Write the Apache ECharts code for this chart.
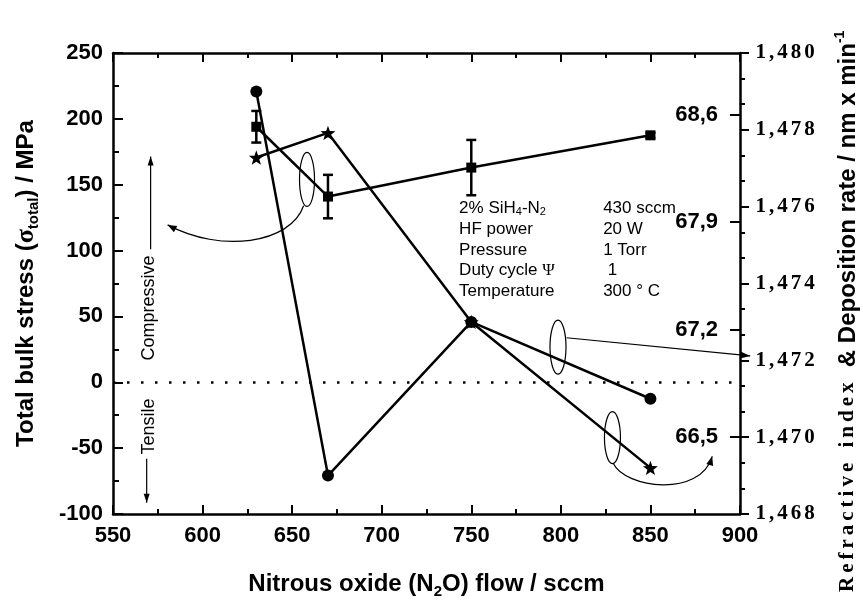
<!DOCTYPE html>
<html>
<head>
<meta charset="utf-8">
<script src="https://cdn.jsdelivr.net/npm/echarts@6/dist/echarts.min.js"></script>
<style>
  html, body { margin: 0; padding: 0; background: #fff; }
  #chart { width: 863px; height: 604px; }
</style>
</head>
<body>
<div id="chart"></div>
<script>
// N2O flow settings (sccm)
const flow = [630, 670, 750, 850];
// Total bulk stress (MPa) with its spread
const stress = [194, 141, 163, 187.5];
const stressErr = [12, 16.5, 21, 2];
// Refractive index
const refractiveIndex = [1.4790, 1.4690, 1.4730, 1.4710];
// Deposition rate (nm x min^-1)
const depositionRate = [68.32, 68.48, 67.25, 66.30];
const depositionTicks = [66.5, 67.2, 67.9, 68.6];

// Process conditions block
const paramNames = ['2% SiH{sub|4}-N{sub|2}', 'HF power', 'Pressure', 'Duty cycle {psi|Ψ}', 'Temperature'];
const paramValues = ['430 sccm', '20 W', '1 Torr', ' 1', '300 ° C'];

const SANS = '"Liberation Sans", Arial, Helvetica, sans-serif';
const SERIF = '"Liberation Serif", "Times New Roman", serif';
const INK = '#000';

const chart = echarts.init(document.getElementById('chart'), null, { renderer: 'canvas' });

const STAR = 'path://M0,-10L2.35,-3.24L9.51,-3.09L3.8,1.24L5.88,8.09L0,4.4L-5.88,8.09L-3.8,1.24L-9.51,-3.09L-2.35,-3.24Z';

const spineLine = { show: true, onZero: false, lineStyle: { color: INK, width: 2.5 } };
const boldLabel = { color: INK, fontFamily: SANS, fontWeight: 'bold', fontSize: 22 };
const comma = (v, d) => v.toFixed(d).replace('.', ',');

const titleRich = {
  b: { fontFamily: SANS, fontWeight: 'bold', fontSize: 24, color: INK, lineHeight: 30 },
  sub: { fontFamily: SANS, fontWeight: 'bold', fontSize: 15, color: INK, lineHeight: 13, verticalAlign: 'bottom' }
};

const option = {
  animation: false,
  backgroundColor: '#fff',
  grid: { left: 113, right: 123, top: 53, bottom: 88, containLabel: false },
  xAxis: [
    {
      type: 'value', position: 'bottom', min: 550, max: 900, interval: 50,
      axisLine: spineLine,
      axisTick: { show: true, inside: true, length: 9, lineStyle: { color: INK, width: 2 } },
      minorTick: { show: true, splitNumber: 2, length: 5, lineStyle: { color: INK, width: 2 } },
      splitLine: { show: false },
      axisLabel: Object.assign({ margin: 11 }, boldLabel),
      name: '{b|Nitrous oxide (N}{sub|2}{b|O) flow / sccm}',
      nameLocation: 'middle', nameGap: 55,
      nameTextStyle: { rich: titleRich, padding: [0, 0, 0, 0] }
    },
    {
      type: 'value', position: 'top', min: 550, max: 900, interval: 50,
      axisLine: spineLine,
      axisTick: { show: true, inside: true, length: 9, lineStyle: { color: INK, width: 2 } },
      minorTick: { show: true, splitNumber: 2, length: 5, lineStyle: { color: INK, width: 2 } },
      splitLine: { show: false },
      axisLabel: { show: false }
    }
  ],
  yAxis: [
    {
      type: 'value', position: 'left', min: -100, max: 250, interval: 50,
      axisLine: spineLine,
      axisTick: { show: true, inside: true, length: 10, lineStyle: { color: INK, width: 2 } },
      minorTick: { show: true, splitNumber: 2, length: 6, lineStyle: { color: INK, width: 2 } },
      splitLine: { show: false },
      axisLabel: Object.assign({ margin: 10 }, boldLabel),
      name: '{b|Total bulk stress (}{g|σ}{sub|total}{b|) / MPa}',
      nameLocation: 'middle', nameGap: 72, nameRotate: 90,
      nameTextStyle: {
        rich: Object.assign({}, titleRich, {
          g: { fontFamily: SERIF, fontWeight: 'bold', fontSize: 26, color: INK, lineHeight: 30 }
        })
      }
    },
    {
      type: 'value', position: 'right', min: 1.468, max: 1.480, interval: 0.002,
      axisLine: spineLine,
      axisTick: { show: true, inside: false, length: 9, lineStyle: { color: INK, width: 2 } },
      minorTick: { show: true, splitNumber: 3, length: 5, lineStyle: { color: INK, width: 2 } },
      splitLine: { show: false },
      axisLabel: {
        margin: 14,
        formatter: v => comma(v, 3).split('').map(c => '{d|' + c + '}').join(''),
        rich: { d: { fontFamily: SERIF, fontWeight: 'bold', fontSize: 21, color: INK, padding: [0, 1.5, 0, 1.5] } }
      }
    },
    {
      type: 'value', position: 'right', min: 66, max: 69,
      axisLine: { show: false },
      axisTick: { show: true, inside: true, length: 10, customValues: depositionTicks, lineStyle: { color: INK, width: 2 } },
      splitLine: { show: false },
      axisLabel: Object.assign({
        inside: true, margin: 22, customValues: depositionTicks,
        formatter: v => comma(v, 1)
      }, boldLabel)
    }
  ],
  series: [
    {
      name: 'Stress', type: 'line', xAxisIndex: 0, yAxisIndex: 0, z: 3,
      data: flow.map((f, i) => [f, stress[i]]),
      symbol: 'rect', symbolSize: 10,
      lineStyle: { color: INK, width: 2.5 },
      itemStyle: { color: INK },
      markLine: {
        silent: true, symbol: 'none', label: { show: false },
        lineStyle: { color: INK, width: 2.5, type: [2.5, 11.5] },
        data: [{ yAxis: 0 }]
      }
    },
    {
      name: 'Stress spread', type: 'custom', xAxisIndex: 0, yAxisIndex: 0, z: 3,
      data: flow.map((f, i) => [f, stress[i] - stressErr[i], stress[i] + stressErr[i]]),
      encode: { x: 0, y: [1, 2] },
      renderItem: (params, api) => {
        const lo = api.coord([api.value(0), api.value(1)]);
        const hi = api.coord([api.value(0), api.value(2)]);
        const w = 5;
        const st = { stroke: INK, lineWidth: 2.5 };
        return {
          type: 'group',
          children: [
            { type: 'line', shape: { x1: lo[0], y1: lo[1], x2: hi[0], y2: hi[1] }, style: st },
            { type: 'line', shape: { x1: lo[0] - w, y1: lo[1], x2: lo[0] + w, y2: lo[1] }, style: st },
            { type: 'line', shape: { x1: hi[0] - w, y1: hi[1], x2: hi[0] + w, y2: hi[1] }, style: st }
          ]
        };
      }
    },
    {
      name: 'Deposition rate', type: 'line', xAxisIndex: 0, yAxisIndex: 2, z: 3,
      data: flow.map((f, i) => [f, depositionRate[i]]),
      symbol: STAR, symbolSize: 15, symbolKeepAspect: true,
      lineStyle: { color: INK, width: 2.5 },
      itemStyle: { color: INK }
    },
    {
      name: 'Refractive index', type: 'line', xAxisIndex: 0, yAxisIndex: 1, z: 4,
      data: flow.map((f, i) => [f, refractiveIndex[i]]),
      symbol: 'circle', symbolSize: 12,
      lineStyle: { color: INK, width: 2.5 },
      itemStyle: { color: INK }
    }
  ]
};

chart.setOption(option);

// ---- annotations (placed in flow/stress data space) ----
const px = (x, y) => chart.convertToPixel({ xAxisIndex: 0, yAxisIndex: 0 }, [x, y]);
const thin = { stroke: INK, lineWidth: 1.2, fill: null };

function arrowHead(tip, from, len, half) {
  const dx = tip[0] - from[0], dy = tip[1] - from[1];
  const d = Math.hypot(dx, dy), ux = dx / d, uy = dy / d;
  const bx = tip[0] - ux * len, by = tip[1] - uy * len;
  return {
    type: 'polygon', silent: true,
    shape: { points: [tip, [bx - uy * half, by + ux * half], [bx + uy * half, by - ux * half]] },
    style: { fill: INK }
  };
}
function ellipse(c, rx, ry) {
  const p = px(c[0], c[1]);
  return { type: 'ellipse', silent: true, shape: { cx: p[0], cy: p[1], rx: rx, ry: ry }, style: thin };
}
function curveArrow(p0, c1, c2, p3) {
  const a = px(...p0), b = px(...c1), c = px(...c2), d = px(...p3);
  return [
    { type: 'bezierCurve', silent: true,
      shape: { x1: a[0], y1: a[1], cpx1: b[0], cpy1: b[1], cpx2: c[0], cpy2: c[1], x2: d[0], y2: d[1] },
      style: thin },
    arrowHead(d, c, 9, 3.5)
  ];
}
function straightArrow(p0, p1, len, half) {
  const a = px(...p0), b = px(...p1);
  return [
    { type: 'line', silent: true, shape: { x1: a[0], y1: a[1], x2: b[0], y2: b[1] }, style: thin },
    arrowHead(b, a, len, half)
  ];
}
function label(x, y, text, opts, rotation) {
  const p = px(x, y);
  return {
    type: 'text', silent: true, x: p[0], y: p[1], rotation: rotation || 0,
    style: Object.assign({
      text: text, fill: INK, fontFamily: SANS, fontSize: 17,
      align: 'left', verticalAlign: 'middle', textAlign: 'left', textVerticalAlign: 'middle'
    }, opts || {})
  };
}

const infoRich = {
  sub: { fontFamily: SANS, fontSize: 11, fill: INK, color: INK, lineHeight: 10, verticalAlign: 'bottom' },
  psi: { fontFamily: SERIF, fontSize: 17, fill: INK, color: INK }
};

const graphics = [];
// grouping marks with pointer arrows
graphics.push(ellipse([658.3, 154], 7.5, 27));
graphics.push(...curveArrow([656.4, 134], [649, 105], [610, 98], [580.5, 119.5]));
graphics.push(ellipse([798.4, 26.7], 8, 27));
graphics.push(...straightArrow([803.2, 33.8], [905.7, 20], 10, 3.5));
graphics.push(ellipse([828.8, -42], 8, 26));
graphics.push(...curveArrow([829.2, -61.5], [835.9, -80.5], [877.7, -88], [884.5, -56.2]));

// compressive / tensile indicators
const centered = { fontSize: 18, align: 'center', textAlign: 'center' };
graphics.push(...straightArrow([571, 101], [571, 171.5], 9, 3));
graphics.push(label(570.2, 56.4, 'Compressive', centered, Math.PI / 2));
graphics.push(...straightArrow([568.8, -58], [568.8, -91.5], 9, 3));
graphics.push(label(570, -33.5, 'Tensile', centered, Math.PI / 2));

// process condition block
const rowY = [131.8, 116.2, 100.3, 84.7, 69.1];
paramNames.forEach((t, i) => {
  graphics.push(label(743.2, rowY[i], t, { rich: infoRich }));
  graphics.push(label(823.6, rowY[i], paramValues[i]));
});

// right-hand axis title
const spaced = 'Refractive index'.split('').map(c => c === ' ' ? '{rs| }' : '{r|' + c + '}').join('');
graphics.push({
  type: 'text', silent: true, x: 848, y: 594, rotation: Math.PI / 2,
  style: {
    text: spaced + '{d|  & Deposition rate / nm x min}{sup|-1}',
    align: 'left', verticalAlign: 'middle', textAlign: 'left', textVerticalAlign: 'middle',
    fill: INK,
    rich: {
      r: { fontFamily: SERIF, fontWeight: 'bold', fontSize: 21, fill: INK, padding: [0, 2, 0, 2], lineHeight: 30 },
      rs: { fontFamily: SERIF, fontWeight: 'bold', fontSize: 21, fill: INK, padding: [0, 3, 0, 3], lineHeight: 30 },
      d: { fontFamily: SANS, fontWeight: 'bold', fontSize: 24, fill: INK, lineHeight: 30 },
      sup: { fontFamily: SANS, fontWeight: 'bold', fontSize: 14, fill: INK, lineHeight: 14, verticalAlign: 'top' }
    }
  }
});

chart.setOption({ graphic: { elements: graphics } });
</script>
</body>
</html>
